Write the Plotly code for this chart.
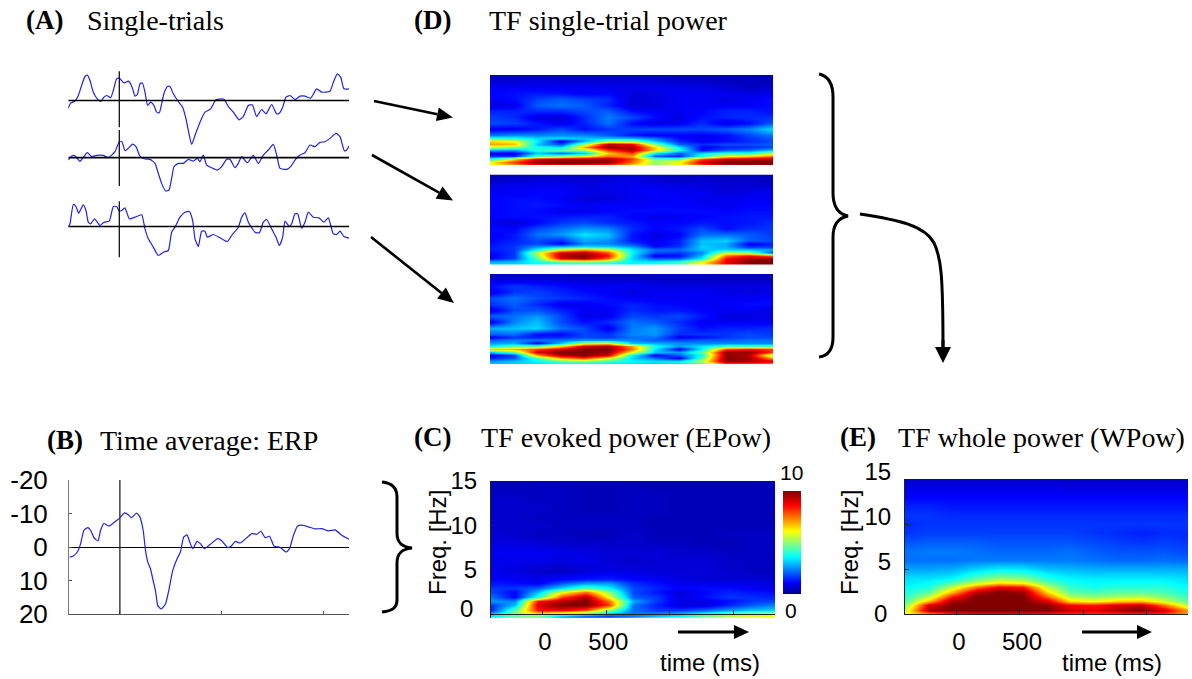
import math
import plotly.graph_objects as go

W, H = 1192, 679

# ---- single-trial and average waveforms (samples relative to onset, amplitude in uV, negative up)
TRIAL1_T = [-153,-146,-133,-123,-113,-103,-96,-88,-78,-66,-56,-46,-38,-26,-18,-8,0,14,27,34,40,47,54,62,69,77,85,94,104,112,120,127,135,145,152,162,177,190,200,208,217,227,242,257,274,290,314,327,342,359,372,387,399,412,427,440,457,472,480,490,500,512,527,542,557,574,592,607,632,642,654,664,674,689]
TRIAL1_V = [2.3,.8,.2,-1.5,-4.5,-7.2,-7.6,-6,-2.5,-.5,.3,-1,-1.5,-.8,-3,-6.5,-6.7,-5.3,-5.8,-5,-3.5,-1.3,-1.8,-5,-5.3,-2.5,1.5,.5,1.5,3.5,3.7,1,-2.5,-4.2,-4.2,-2,.3,2,5.5,9.5,13.2,10.5,6.5,3.5,2.5,-.2,-.4,1.8,3.5,5.8,4.8,1.5,1.3,4.8,2.7,4,1.2,4,3.8,2,-1,-1.5,-.3,-1.3,-1.3,-.7,-3.5,-2.5,-2.8,-5.5,-8,-7,-3.5,-3.5]
TRIAL2_T = [-153,-143,-133,-118,-108,-96,-83,-68,-48,-33,-13,0,8,17,27,40,50,62,77,92,107,117,127,139,149,157,164,177,192,207,222,234,242,252,262,277,294,307,322,332,347,357,367,384,402,417,432,447,462,472,482,502,514,527,542,557,572,587,602,617,632,650,662,675,682,689]
TRIAL2_V = [.7,-.5,-.6,1.1,-.1,-1.5,-.3,-.7,-.7,0,-1.8,-4.8,-4.8,-2.1,-2.8,-4.1,-3.3,-.5,.4,.5,1.7,4.7,7.7,10,9.7,6.2,2.7,1.7,1.7,.5,1,.2,1.2,-.8,2.2,3,3.7,2.7,.5,.5,3,1.7,-.3,1.5,-.7,1.7,-.8,-2.3,-4,-.8,3.2,3.5,2.7,.7,-.8,-1.5,-3.8,-3.3,-4.6,-4.8,-5.8,-7.3,-6.3,-2.1,-2.3,-3.5]
TRIAL3_T = [-153,-148,-138,-130,-122,-108,-100,-93,-86,-74,-58,-46,-30,-18,-8,0,7,17,30,47,67,77,87,102,117,132,147,157,167,182,197,210,220,227,237,247,257,264,282,302,324,337,357,367,377,387,407,420,432,442,457,470,480,490,497,510,517,527,535,547,557,567,582,599,614,627,642,652,662,674,689]
TRIAL3_V = [0,-.8,-6.6,-6,-4,-6.5,-4.8,-1.3,-.8,-2.3,-.3,-1.3,-1.6,-6,-6,-4.6,-4.8,-5.6,-2.3,-2.8,-3.5,.7,3.7,6.2,8.7,7.7,7.2,1.7,.2,-2.8,-4.3,-4.5,-1.8,3.7,6,1.4,1.4,3.2,2.4,3.4,4.5,2.7,.2,-2.8,-4.1,-1.3,1.7,1.9,-1.3,-2.1,.7,3.2,5.7,3.2,-1.6,0,-.8,-3.8,-3.8,.5,-1.3,-4.3,-2.8,-2.6,-1.3,-2.6,2.2,2.4,1.4,3,3.5]
ERP_T = [-151,-140,-126,-118,-108,-96,-88,-78,-66,-58,-48,-33,-13,0,14,27,34,50,60,70,77,84,92,100,107,114,124,137,147,159,172,182,192,202,210,219,232,242,254,272,294,307,324,334,347,362,397,412,424,437,450,464,480,500,510,522,534,547,567,587,607,627,647,667,689]
ERP_V = [3,2.7,1.2,-1,-5,-5.8,-5,-2.8,-1.8,-5,-7,-6.2,-7.7,-8.7,-10.2,-9.5,-8.7,-10.1,-9,-5,1,4.5,6.5,10,13,17.5,18.5,17,13,7,3.5,1.5,-3,-3.6,-1.5,.5,-1.7,-1,.5,-.8,-2.5,-1.8,.2,-.2,-1.7,-1.2,-4,-3.8,-4.7,-2.8,-3.2,-.2,0,1.5,.5,-3.5,-6.2,-6.5,-6,-5.4,-5.5,-4.8,-5.1,-3.5,-2.3]
ERP_TICKS = [-20,-10,0,10,20]
ERP_TICK_LABELS = ['-20','-10','0','10','20']
ERP_XTICKS = [0,307,613]

# ---- time-frequency maps (rows from top to bottom)
TIME_MS = [-410,-223,-37,150,337,523,710,897,1083,1270,1457,1643,1830]
FREQ_D = [15,14,13,12,11,10,9,8,7,6,5,4.5,4,3.5,3,2.5,2,1.5,1,.5,0]
D1_POWER = [
 [.5,.5,.5,.5,.5,.5,.5,.5,.5,.5,.4,.4,.4],
 [.7,.7,.8,.7,.7,.7,.7,.7,.6,.6,.5,.5,.4],
 [1,1,1,1,1,.9,.9,.9,.9,.8,.7,.5,.6],
 [1.1,1.2,1.3,1.2,1,1.1,.8,.8,1,1,1,.8,.9],
 [1,1.2,1.7,2,1.7,1.5,.7,.8,1,1,.8,1,1.2],
 [.8,.9,2,2.2,2,1.4,.7,.8,1,1,1,1,1.2],
 [1.4,1.4,1.5,1.5,1.8,2,1.2,1,1,1.1,1.4,1.4,1.2],
 [1.7,1.5,.8,.7,1.5,2.3,1.8,1.2,.8,1.2,1.4,1.5,1.5],
 [1.8,1.7,1.3,.9,1.4,2.2,1.2,.8,1,1.5,.8,1.2,2],
 [1,1,1.3,1.8,1.2,1.6,1.7,1.8,1.8,1.8,2,2.4,3.3],
 [2.2,2.5,2.4,2.5,2.4,2,1.3,1,1.1,1,1.2,1.8,2.3],
 [4,3.8,3.2,3.2,3,3,2.8,2.2,1.2,1,1.2,1.6,2],
 [6.5,6,3.5,.8,2.8,5,5,3,1.5,1,1.2,1.5,1.8],
 [7,6.8,3,1.8,5,9.3,8.7,4.8,2,1.5,1.8,1.8,2],
 [5.5,5,3.8,3.4,7,9.8,9.5,6.5,3.4,1,1.4,1.5,1.8],
 [2.8,2.6,4,4.5,5,8,9.5,6.5,3.8,1.2,2,2.2,3],
 [.9,.8,3,2,2.8,6.5,8,3.5,2,3.3,4,4,5.5],
 [1.6,1.5,4.5,5,6,7.5,7,2,1.5,4,6,6.5,7.5],
 [4,6.5,9,9.5,9.7,9.8,8,5,5,8,9.2,9.5,9.6],
 [6,8,9.8,10,10,9.8,7.5,5,6,9,10,10,10],
 [6,7,8.5,8.7,8.5,8,6.5,4.8,6,8,9.2,9.5,9.5],
]
D2_POWER = [
 [.4,.4,.5,.6,.6,.6,.7,.6,.5,.5,.5,.5,.4],
 [.6,.7,.8,.8,.7,.8,.9,.7,.6,.7,.6,.6,.5],
 [.9,1,1,1,.8,.9,1,1,.9,.8,.7,.7,.7],
 [1,1,1.1,1.1,.9,.8,1,1.1,1,1,.7,.9,.9],
 [1.1,1.2,1.2,1,.7,.7,1,1,1.1,.9,1,1,1],
 [1.1,1.2,1.3,1.2,1,1.1,1,1.1,1.1,1,.9,1.1,1.1],
 [1.1,1.2,1.2,.9,.9,1.1,1.2,1.2,1.2,1.2,1.1,1.2,1.2],
 [1.1,1.2,1.2,1.3,1.4,1.4,1.1,.9,1,1.1,1.2,1.3,1.3],
 [.9,.7,1.1,1.6,1.8,1.5,1.3,1.1,1.1,1.3,1.2,1.3,1.5],
 [1.2,1.1,1.8,2.2,2.6,2.4,1.5,1.1,1.3,1.8,1.2,1.5,1.6],
 [1,1.3,2.2,2.6,3.4,3,1.3,.8,1.1,2.2,2.2,2,1.6],
 [1,1.3,2,2,3,2.8,1.3,.9,1.2,2.6,2.7,2,1.7],
 [1.1,1.4,1.8,1.5,2.8,2.5,1.3,1,1.4,3,3.2,2,1.8],
 [1.2,1.5,1.8,1,2.4,2.4,1.8,.9,1.4,3,2.8,1,1.4],
 [1.3,1.6,2.6,3,3.4,3.2,2.6,1.2,1.6,3.2,2.8,1.5,1.6],
 [1.3,1.6,3.6,6,7,6,3.4,2.2,2.2,3,3.2,3,2.8],
 [1.1,1.6,5.5,9,9.5,7.8,3.6,1.8,1.6,2.4,5.5,5,1.6],
 [1,1.6,5,9.5,10,8.5,3.4,.9,1.2,3,7.5,8.5,7.5],
 [1.1,1.8,4.4,8.8,9.5,7.5,3.2,2,2,3.6,8.5,9.6,9.8],
 [2.8,3,3.8,4.5,4.8,4.5,3.5,3.5,4,6,8.8,10,10],
 [3.2,3.2,3.4,3.5,3.5,3.5,3.5,4,4.5,6.2,8.5,9.6,10],
]
D3_POWER = [
 [.5,.5,.5,.5,.4,.4,.4,.5,.5,.5,.4,.4,.4],
 [.8,.9,.8,.8,.7,.7,.7,.6,.6,.6,.6,.6,.6],
 [1.2,1.6,1.4,1.2,1,1,1,.9,.8,.8,.8,.8,.8],
 [.8,1.6,1.7,1.4,1.2,1,.8,1,1,1,.9,.8,.9],
 [1.8,2.2,1.8,1.6,1.4,1.2,1,1,1,1,1,1,1.1],
 [1.6,2,1.5,.9,1,1.2,1.4,1.2,1.1,1,1,1.2,1.2],
 [.8,1.8,1.9,1.4,1,1,1.5,1.3,1.3,1.1,1,1,.8],
 [2,2.2,2.6,1.8,.9,1,1.8,1.6,1.8,1.3,.8,.8,.8],
 [.9,2.4,3,1.8,1.2,1.5,2.2,2,1.5,1,1,1,1],
 [2.8,3,3.2,2.2,1.8,.9,2.3,2.6,1.7,1.2,1.4,1.4,1.5],
 [2,2.2,1.2,1.1,1.8,1.6,2.4,2.6,1.5,1.6,1.6,1.8,1.6],
 [1,1.6,1.4,1.5,1.8,1.6,2.2,2.2,1,1.2,1.6,1.8,1.8],
 [2,2.4,2.2,2.3,2.6,2.6,2.4,2,1.8,2,2,2.2,2.2],
 [2.6,2.8,1,3,5.5,6,3,2.8,2.5,2.4,2.4,2.4,2.4],
 [3.5,4.4,4.5,6.5,9,9.6,7,3.8,2.6,3.4,4.2,4.2,4.2],
 [6.5,7,8,9,10,10,7.5,3.4,1,3.5,8,8.5,8],
 [3,4.5,9,10,10,9.8,6,3,2.6,4.5,9.8,9.8,8],
 [1,1.6,7,9.5,10,9,3.6,1,2,3.8,9.8,9.4,5],
 [1.4,2,4.2,7,8,6,3.2,2.2,.9,4.5,10,9.6,7],
 [2.6,3,3.6,4.5,4.8,4.2,3.6,3.4,3.4,5.5,9.8,9.6,9],
 [3,3.2,3.2,3.4,3.4,3.2,3.2,3,3.4,4.2,7.5,7.5,7],
]
FREQ_C = [15,14,13,12,11,10,9,8,7,6,5,4,3.5,3,2.5,2,1.5,1,.5,0,-.375]
EPOW = [
 [.4,.4,.5,.5,.5,.5,.4,.4,.4,.4,.4,.4,.4],
 [.5,.5,.5,.5,.4,.4,.5,.4,.4,.4,.4,.4,.4],
 [.6,.6,.5,.5,.4,.4,.5,.5,.4,.4,.4,.4,.4],
 [.6,.6,.6,.5,.4,.4,.5,.5,.4,.4,.4,.4,.4],
 [.6,.6,.5,.5,.5,.5,.5,.4,.4,.4,.4,.4,.4],
 [.6,.6,.6,.5,.5,.5,.5,.4,.4,.4,.4,.4,.4],
 [.7,.6,.5,.5,.4,.4,.6,.4,.4,.4,.5,.5,.5],
 [.8,.8,.7,.6,.6,.6,.6,.5,.5,.4,.4,.5,.5],
 [1,1,1,.9,.8,.7,.7,.7,.6,.6,.5,.5,.5],
 [.9,.9,.9,.8,.9,.7,.6,.7,.7,.7,.6,.5,.5],
 [.9,.8,.6,.5,.7,.8,.8,.7,.7,.7,.6,.5,.5],
 [1.1,1,.9,1.1,1.3,1.4,1.1,1,.8,.7,.7,.7,.6],
 [1.3,1.2,1,1.9,2.6,2.6,1.5,1.2,.9,.9,.9,.9,.8],
 [1.6,1.6,2,3.3,4.5,3.6,1.8,1.4,1.1,1.2,1.2,1,.8],
 [1.8,1.1,3,6,7.5,5,1.8,1.3,.7,1.1,1.4,1.3,1.2],
 [2.2,1.1,4,8,9.5,6,2,1.6,.8,1.2,1.6,1.5,1.4],
 [2.6,2.4,8.5,9.5,10,7.5,2.8,1.6,.8,.8,1.2,1.6,1.8],
 [1.6,3,9,10,10,8,2.2,1.4,.8,.8,1.4,2,2.4],
 [1.4,4.5,8.5,8.8,7.8,5,2.2,1.6,1.6,2,2.6,3,3.2],
 [3,5,6,4.5,3.5,2.6,2.3,2.6,3,4,5,5.5,5.8],
 [3.8,4.2,3.8,1.8,1,1.1,2.3,3.4,4.2,5.2,5.8,6,6.1],
]
FREQ_E = [15,14,13,12,11,10,9,8,7,6,5,4,3.5,3,2.5,2,1.5,1,.5,0]
WPOW = [
 [.6,.6,.6,.6,.6,.6,.6,.6,.6,.6,.6,.6,.6],
 [.9,.9,.9,.9,.9,.9,.9,.8,.8,.8,.8,.8,.8],
 [1.1,1.1,1.1,1.1,1.1,1.1,1.1,1.1,1.1,1.1,1.1,1.1,1.1],
 [1.4,1.4,1.3,1.3,1.3,1.3,1.3,1.3,1.3,1.3,1.3,1.3,1.3],
 [1.6,1.6,1.5,1.5,1.5,1.5,1.5,1.5,1.5,1.5,1.5,1.5,1.5],
 [1.5,1.6,1.6,1.6,1.6,1.6,1.6,1.6,1.6,1.6,1.6,1.6,1.6],
 [1.6,1.7,1.7,1.7,1.7,1.7,1.7,1.7,1.6,1.5,1.4,1.5,1.5],
 [1.9,2,2,2,1.9,1.9,1.9,1.9,1.8,1.7,1.6,1.7,1.6],
 [2.2,2.3,2.3,2.2,2.1,2.1,2.1,2.2,2,1.9,1.9,1.9,1.8],
 [2.2,2.2,2.2,2.3,2.3,2.3,2.3,2.3,2.2,2.1,2.1,2.2,2.1],
 [2.7,2.7,2.8,3.2,3.5,3.4,3,2.9,2.8,2.8,2.8,2.8,2.8],
 [3.3,3.3,3.5,4.4,5,4.8,3.9,3.5,3.4,3.4,3.4,3.4,3.3],
 [3.4,3.6,4.4,5.6,6.5,6.2,4.6,3.8,3.6,3.7,3.7,3.7,3.4],
 [3.6,3.9,5.5,7.5,8.8,8.4,5.5,4.1,3.8,4,4,4,3.6],
 [3.8,4.5,6.8,9.3,10,9.7,6.5,4.5,4.3,4.5,4.5,4.3,3.8],
 [4,5.3,8.2,10,10,10,7.5,5.2,4.9,5.1,5.3,4.8,4.1],
 [4.3,6.8,9.6,10,10,10,9,6.4,6,6.5,6.7,5.6,4.5],
 [4.8,9,10,10,10,10,9.9,8.6,8.4,9,9.3,7.5,5.3],
 [5.5,9.5,10,10,10,10,10,9.2,8.9,9.5,10,9,7],
 [6,7,8,8.5,8.5,8.5,8.2,8,8,8,8,8,7],
]
FREQ_TICKS = [5,10,15]
TIME_TICKS = [0,500,1000,1500]
TIME_LABELS = ['0','500','','']

JET = [[0,'rgb(0,0,143)'],[.11,'rgb(0,0,255)'],[.36,'rgb(0,255,255)'],
       [.61,'rgb(255,255,0)'],[.86,'rgb(255,0,0)'],[1,'rgb(128,0,0)']]
BLUE = '#2020ee'
SERIF = 'Liberation Serif'
SANS = 'Liberation Sans'

fx = lambda x: x / W
fy = lambda y: 1 - y / H
def pt(x, y):
    return f"{fx(x):.5f},{fy(y):.5f}"

fig = go.Figure()
layout = dict(width=W, height=H, margin=dict(l=0, r=0, t=0, b=0, autoexpand=False), autosize=False,
              paper_bgcolor='white', plot_bgcolor='rgba(0,0,0,0)', showlegend=False)
shapes, notes = [], []

def dom_x(a, b): return [fx(a), fx(b)]
def dom_y(top, bottom): return [fy(bottom), fy(top)]

HIDE = dict(visible=False, showgrid=False, zeroline=False)

def add_trial(idx, t, v, top, bottom, zero_px, vtop, vbot, zero_w):
    sfx = str(idx)
    per_uv = 10 / 3  # pixels per microvolt
    layout[f'xaxis{sfx}'] = dict(HIDE, domain=dom_x(68.3, 349), range=[-153, 689], anchor=f'y{sfx}')
    layout[f'yaxis{sfx}'] = dict(HIDE, domain=dom_y(top, bottom), anchor=f'x{sfx}',
                                 range=[(bottom - zero_px) / per_uv, (top - zero_px) / per_uv])
    fig.add_trace(go.Scatter(x=t, y=v, mode='lines', xaxis=f'x{sfx}', yaxis=f'y{sfx}',
                             line=dict(color=BLUE, width=1.2, shape='spline', smoothing=.5),
                             cliponaxis=False, hoverinfo='skip'))
    shapes.append(dict(type='line', xref=f'x{sfx}', yref=f'y{sfx}', x0=-153, x1=689, y0=0, y1=0,
                       line=dict(color='#000', width=zero_w)))
    shapes.append(dict(type='line', xref=f'x{sfx}', yref=f'y{sfx}', x0=0, x1=0, y0=vtop, y1=vbot,
                       line=dict(color='#111', width=1.3)))

add_trial(2, TRIAL1_T, TRIAL1_V, 66, 150, 100.5, -8.8, 8, 1.3)
add_trial(3, TRIAL2_T, TRIAL2_V, 125, 195, 157.7, -8.3, 8.5, 1.8)
add_trial(4, TRIAL3_T, TRIAL3_V, 195, 262, 226.5, -7.6, 9.2, 1.3)

# Panel B: ERP
layout['xaxis5'] = dict(domain=dom_x(69, 349), range=[-153, 689], anchor='y5', showgrid=False, zeroline=False,
                        showline=True, linecolor='#555', linewidth=1, ticks='inside', ticklen=3,
                        tickcolor='#555', tickvals=ERP_XTICKS, showticklabels=False)
layout['yaxis5'] = dict(domain=dom_y(480, 614), range=[20, -20], anchor='x5', showgrid=False,
                        zeroline=True, zerolinecolor='#000', zerolinewidth=1.2,
                        showline=True, linecolor='#777', linewidth=1, ticks='inside', ticklen=3,
                        tickcolor='#555', tickvals=ERP_TICKS, ticktext=ERP_TICK_LABELS,
                        tickfont=dict(family=SANS, size=26, color='black'), ticklabelstandoff=15)
fig.add_trace(go.Scatter(x=ERP_T, y=ERP_V, mode='lines', xaxis='x5', yaxis='y5',
                         line=dict(color=BLUE, width=1.2, shape='spline', smoothing=.5), hoverinfo='skip'))
shapes.append(dict(type='line', xref='x5', yref='y5', x0=0, x1=0, y0=-20, y1=20, line=dict(color='#333', width=1.4)))

# Panels D: single-trial maps
for sfx, z, top, bottom in [(6, D1_POWER, 75, 165), (7, D2_POWER, 174.5, 265), (8, D3_POWER, 274, 364)]:
    layout[f'xaxis{sfx}'] = dict(HIDE, domain=dom_x(490, 773), range=[TIME_MS[0], TIME_MS[-1]], anchor=f'y{sfx}')
    layout[f'yaxis{sfx}'] = dict(HIDE, domain=dom_y(top, bottom), range=[0, 15], anchor=f'x{sfx}')
    fig.add_trace(go.Heatmap(x=TIME_MS, y=FREQ_D[::-1], z=z[::-1], zmin=0, zmax=10, colorscale=JET, zsmooth='best',
                             showscale=False, xaxis=f'x{sfx}', yaxis=f'y{sfx}', hoverinfo='skip'))

# Panel C: evoked power
tick_style = dict(showgrid=False, zeroline=False, showline=True, linecolor='#222', linewidth=1,
                  ticks='inside', ticklen=4, tickcolor='#222',
                  tickfont=dict(family=SANS, size=24, color='black'))
layout['xaxis9'] = dict(tick_style, domain=dom_x(491, 775), range=[TIME_MS[0], TIME_MS[-1]], anchor='free',
                        position=fy(614), tickvals=TIME_TICKS, ticktext=TIME_LABELS, ticklabelstandoff=6,
                        ticklabelshift=2)
layout['yaxis9'] = dict(tick_style, domain=dom_y(481, 617.7), range=[FREQ_C[-1], 15], anchor='x9',
                        tickvals=FREQ_TICKS, ticklabelstandoff=8)
fig.add_trace(go.Heatmap(x=TIME_MS, y=FREQ_C[::-1], z=EPOW[::-1], zmin=0, zmax=10, colorscale=JET, zsmooth='best',
                         xaxis='x9', yaxis='y9', hoverinfo='skip',
                         colorbar=dict(x=fx(783), xanchor='left', xpad=0, y=fy(594), yanchor='bottom', ypad=0,
                                       lenmode='pixels', len=103, thicknessmode='pixels', thickness=18,
                                       outlinewidth=0, ticks='', showticklabels=False)))

# Panel E: whole power
layout['xaxis10'] = dict(tick_style, domain=dom_x(905, 1188), range=[TIME_MS[0], TIME_MS[-1]], anchor='y10',
                         tickvals=TIME_TICKS, ticktext=TIME_LABELS, ticklabelstandoff=6, ticklabelshift=2)
layout['yaxis10'] = dict(tick_style, domain=dom_y(479, 614), range=[0, 15], anchor='x10',
                         tickvals=FREQ_TICKS, ticklabelstandoff=8, ticklabelshift=-7)
fig.add_trace(go.Heatmap(x=TIME_MS, y=FREQ_E[::-1], z=WPOW[::-1], zmin=0, zmax=10, colorscale=JET, zsmooth='best',
                         showscale=False, xaxis='x10', yaxis='y10', hoverinfo='skip'))

# ---- text
def text(x, y, s, family=SANS, size=24, anchor='left', bold=False, angle=0):
    notes.append(dict(xref='paper', yref='paper', x=fx(x), y=fy(y), text=f'<b>{s}</b>' if bold else s,
                      showarrow=False, xanchor=anchor, yanchor='middle', textangle=angle,
                      font=dict(family=family, size=size, color='black')))

for x, y, label in [(24, 20, '(A)'), (412, 20, '(D)'), (45, 440, '(B)'), (412, 437, '(C)'), (838, 437, '(E)')]:
    text(x, y, label, SERIF, 27, bold=True)
for x, y, title in [(85, 20, 'Single-trials'), (487, 20, 'TF single-trial power'), (98, 440, 'Time average: ERP'),
                    (479, 437, 'TF evoked power (EPow)'), (896, 437, 'TF whole power (WPow)')]:
    text(x, y, title, SERIF, 28)
text(437, 543, 'Freq. [Hz]', anchor='center', angle=-90)
text(849, 543, 'Freq. [Hz]', anchor='center', angle=-90)
text(710, 662, 'time (ms)', anchor='center')
text(1112, 662, 'time (ms)', anchor='center')
text(467, 608, '0', anchor='center')
text(881, 613, '0', anchor='center')
text(791, 472, '10', size=21, anchor='center')
text(791, 610, '0', size=21, anchor='center')

# ---- decorations: arrows and braces
def arrow(x0, y0, x1, y1, width=2.6, head_len=16, head_w=14):
    d = math.hypot(x1 - x0, y1 - y0)
    ux, uy = (x1 - x0) / d, (y1 - y0) / d
    bx, by = x1 - ux * head_len, y1 - uy * head_len
    shapes.append(dict(type='line', xref='paper', yref='paper', x0=fx(x0), y0=fy(y0), x1=fx(bx), y1=fy(by),
                       line=dict(color='black', width=width)))
    px, py = -uy * head_w / 2, ux * head_w / 2
    shapes.append(dict(type='path', xref='paper', yref='paper', fillcolor='black', line=dict(width=0),
                       path=f"M{pt(x1,y1)} L{pt(bx+px,by+py)} L{pt(bx-px,by-py)} Z"))

arrow(374, 101, 453, 117.5)
arrow(372, 155, 453, 200.5)
arrow(371, 237, 454, 303)
arrow(678, 632, 749, 632, width=3, head_len=15, head_w=14)
arrow(1082, 632, 1152, 632, width=3, head_len=15, head_w=14)

def curve(path):
    shapes.append(dict(type='path', xref='paper', yref='paper', path=path, line=dict(color='black', width=3)))

curve(f"M{pt(819,74)} C{pt(828,76)} {pt(833,84)} {pt(833,97)} L{pt(833,193)} "
      f"C{pt(833,207)} {pt(838,214)} {pt(848,216)} C{pt(838,218)} {pt(833,225)} {pt(833,237)} "
      f"L{pt(833,337)} C{pt(833,350)} {pt(828,356)} {pt(819,357)}")
curve(f"M{pt(382,482)} C{pt(392,483)} {pt(397,488)} {pt(397,497)} L{pt(397,533)} "
      f"C{pt(397,543)} {pt(402,547)} {pt(412,548)} C{pt(402,549)} {pt(397,553)} {pt(397,563)} "
      f"L{pt(397,600)} C{pt(397,608)} {pt(392,611)} {pt(382,612)}")
curve(f"M{pt(860,214)} C{pt(900,220)} {pt(925,226)} {pt(934,243)} C{pt(941,257)} {pt(943,275)} {pt(943,348)}")
arrow(943, 340, 943, 363, width=3, head_len=16, head_w=16)

layout['shapes'] = shapes
layout['annotations'] = notes
fig.update_layout(**layout)
fig.write_html('out.html', config=dict(displayModeBar=False),
               post_script="document.body.style.margin='0';document.documentElement.style.overflow='hidden';")
